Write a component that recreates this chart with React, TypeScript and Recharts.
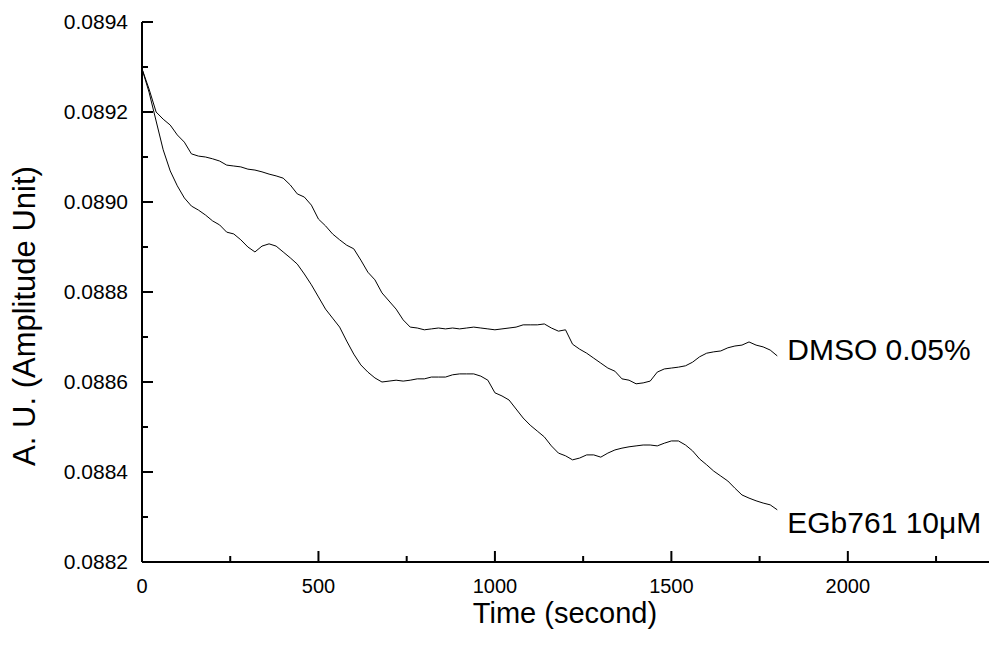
import React from 'react';
import { LineChart, Line, XAxis, YAxis } from 'recharts';

// time in seconds, one reading every 20 s
const times = [
  0, 20, 40, 60, 80, 100, 120, 140, 160, 180, 200, 220, 240, 260, 280, 300, 320, 340, 360, 380,
  400, 420, 440, 460, 480, 500, 520, 540, 560, 580, 600, 620, 640, 660, 680, 700, 720, 740, 760, 780,
  800, 820, 840, 860, 880, 900, 920, 940, 960, 980, 1000, 1020, 1040, 1060, 1080, 1100, 1120, 1140, 1160, 1180,
  1200, 1220, 1240, 1260, 1280, 1300, 1320, 1340, 1360, 1380, 1400, 1420, 1440, 1460, 1480, 1500, 1520, 1540, 1560, 1580,
  1600, 1620, 1640, 1660, 1680, 1700, 1720, 1740, 1760, 1780, 1800,
];

const dmso = [
  0.089296, 0.089251, 0.0892, 0.089184, 0.089171, 0.089149, 0.089133, 0.089107, 0.089102, 0.0891,
  0.089096, 0.089091, 0.089082, 0.08908, 0.089078, 0.089073, 0.089071, 0.089067, 0.089062, 0.089058,
  0.089053, 0.089038, 0.089018, 0.089011, 0.088993, 0.088962, 0.088947, 0.088929, 0.088916, 0.088904,
  0.088896, 0.088871, 0.088844, 0.088827, 0.088798, 0.08878, 0.088762, 0.088738, 0.088722, 0.08872,
  0.088716, 0.088718, 0.08872, 0.088718, 0.08872, 0.088718, 0.08872, 0.088722, 0.08872, 0.088718,
  0.088716, 0.088718, 0.08872, 0.088722, 0.088727, 0.088727, 0.088727, 0.088729, 0.08872, 0.088713,
  0.088716, 0.088684, 0.088673, 0.088664, 0.088653, 0.088642, 0.088631, 0.088624, 0.088607, 0.088604,
  0.088596, 0.088598, 0.088602, 0.088622, 0.088629, 0.088631, 0.088633, 0.088636, 0.088644, 0.088656,
  0.088664, 0.088667, 0.088669, 0.088676, 0.08868, 0.088682, 0.088689, 0.088682, 0.088678, 0.088671,
  0.088658,
];

const egb = [
  0.089296, 0.089244, 0.08918, 0.089116, 0.089069, 0.089036, 0.089009, 0.088991, 0.088982, 0.088971,
  0.088958, 0.088949, 0.088933, 0.088929, 0.088916, 0.0889, 0.088889, 0.088902, 0.088907, 0.088902,
  0.088889, 0.088876, 0.088862, 0.08884, 0.088816, 0.088789, 0.088762, 0.088742, 0.088722, 0.088691,
  0.088662, 0.088638, 0.088622, 0.088609, 0.0886, 0.088602, 0.088604, 0.088602, 0.088604, 0.088607,
  0.088607, 0.088611, 0.088611, 0.088611, 0.088616, 0.088618, 0.088618, 0.088618, 0.088613, 0.088604,
  0.088576, 0.088569, 0.08856, 0.08854, 0.08852, 0.088504, 0.088491, 0.088478, 0.088458, 0.088442,
  0.088436, 0.088427, 0.088431, 0.088438, 0.088438, 0.088433, 0.088442, 0.088449, 0.088453, 0.088456,
  0.088458, 0.08846, 0.08846, 0.088458, 0.088464, 0.088469, 0.088469, 0.08846, 0.088447, 0.088429,
  0.088416, 0.088402, 0.088391, 0.08838, 0.088364, 0.088349, 0.088342, 0.088336, 0.088331, 0.088327,
  0.088316,
];

const xTicks = [0, 250, 500, 750, 1000, 1250, 1500, 1750, 2000, 2250];
const yTicks = [
  0.0882, 0.0883, 0.0884, 0.0885, 0.0886, 0.0887, 0.0888, 0.0889, 0.089, 0.0891, 0.0892, 0.0893, 0.0894,
];

const seriesNames = ['DMSO 0.05%', 'EGb761 10\u03bcM'];

const FONT = '"Liberation Sans", Arial, sans-serif';

const rows = times.map((t, i) => ({ t, dmso: dmso[i], egb: egb[i] }));

const XTick = ({ x, y, payload, index }: any) => {
  const major = index % 2 === 0;
  return (
    <g>
      <line x1={x} x2={x} y1={y} y2={y - (major ? 11 : 6)} stroke="#000" strokeWidth={2} />
      {major && (
        <text x={x} y={y + 31} textAnchor="middle" fontSize={20} fontFamily={FONT} fill="#000">
          {payload.value}
        </text>
      )}
    </g>
  );
};

const YTick = ({ x, y, payload, index }: any) => {
  const major = index % 2 === 0;
  return (
    <g>
      <line x1={x} x2={x + (major ? 11 : 6)} y1={y} y2={y} stroke="#000" strokeWidth={2} />
      {major && (
        <text x={x - 14} y={y + 7} textAnchor="end" fontSize={21} fontFamily={FONT} fill="#000">
          {payload.value.toFixed(4)}
        </text>
      )}
    </g>
  );
};

// name label placed right after the last point of a series
const endLabel = (name: string, dy: number) => (props: any) => {
  if (props.index !== times.length - 1) return null;
  return (
    <text x={props.x + 10} y={props.y + dy} fontSize={30} fontFamily={FONT} fill="#000">
      {name}
    </text>
  );
};

export default function App() {
  return (
    <div style={{ position: 'absolute', left: 0, top: 0, background: '#fff' }}>
      <LineChart width={989} height={657} data={rows} margin={{ top: 22, right: 0, bottom: 0, left: 0 }}>
        <XAxis
          dataKey="t"
          type="number"
          domain={[0, 2400]}
          ticks={xTicks}
          interval={0}
          height={95}
          tickSize={0}
          tickMargin={0}
          tickLine={false}
          axisLine={{ stroke: '#000', strokeWidth: 2 }}
          tick={<XTick />}
          label={() => (
            <text x={565} y={623} textAnchor="middle" fontSize={29} fontFamily={FONT} fill="#000">
              Time (second)
            </text>
          )}
        />
        <YAxis
          type="number"
          domain={[0.0882, 0.0894]}
          ticks={yTicks}
          interval={0}
          width={142}
          tickSize={0}
          tickMargin={0}
          tickLine={false}
          axisLine={{ stroke: '#000', strokeWidth: 2 }}
          tick={<YTick />}
          label={() => (
            <text
              x={35}
              y={316}
              transform="rotate(-90, 35, 316)"
              textAnchor="middle"
              fontSize={31}
              fontFamily={FONT}
              fill="#000"
            >
              A. U. (Amplitude Unit)
            </text>
          )}
        />
        <Line
          type="linear"
          dataKey="dmso"
          stroke="#000"
          strokeWidth={1}
          dot={false}
          isAnimationActive={false}
          label={endLabel(seriesNames[0], 4)}
        />
        <Line
          type="linear"
          dataKey="egb"
          stroke="#000"
          strokeWidth={1}
          dot={false}
          isAnimationActive={false}
          label={endLabel(seriesNames[1], 23)}
        />
      </LineChart>
    </div>
  );
}
